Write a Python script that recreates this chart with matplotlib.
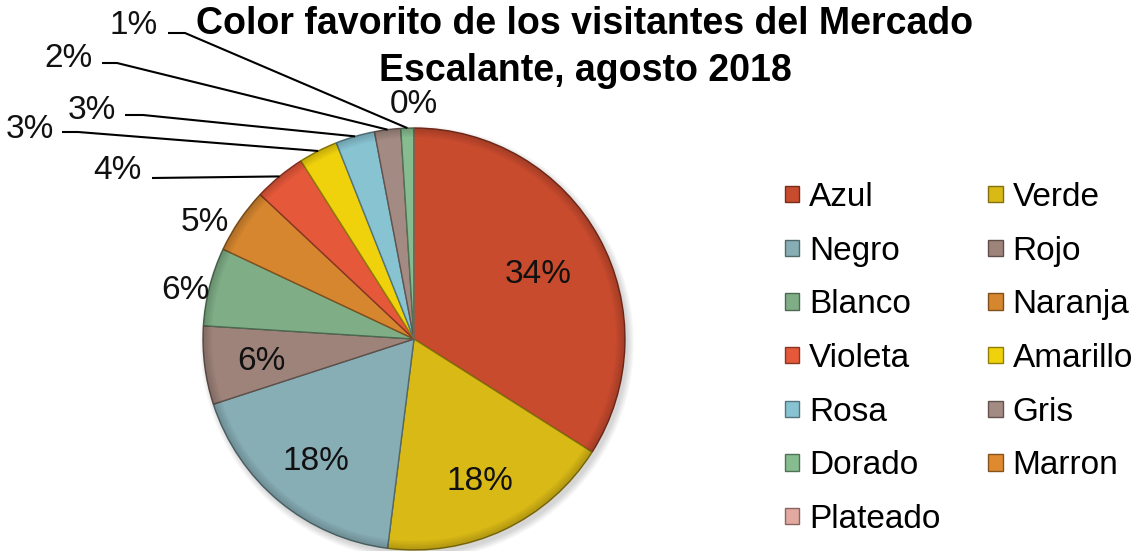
import numpy as np
import matplotlib.pyplot as plt
import matplotlib.colors as mcolors
from matplotlib.patches import Patch, Circle, Wedge

plt.rcParams['font.family'] = ['Liberation Sans', 'DejaVu Sans']

# datos de la encuesta
categorias = ['Azul', 'Verde', 'Negro', 'Rojo', 'Blanco', 'Naranja', 'Violeta',
              'Amarillo', 'Rosa', 'Gris', 'Dorado', 'Marron', 'Plateado']
porcentajes = [34, 18, 18, 6, 6, 5, 4, 3, 3, 2, 1, 0, 0]
colores = ['#C84B2E', '#D9B916', '#87ADB5', '#9E837A', '#7FAE86', '#D5862F', '#E5583A',
           '#F0D20C', '#88C3D2', '#A38A82', '#86BC8F', '#E08A30', '#E2A9A0']

W, H = 1135, 551
fig = plt.figure(figsize=(W / 100, H / 100), dpi=100)
ax = fig.add_axes([0, 0, 1, 1])

cx, cy, r = 414, H - 339, 211


def oscuro(c, f=0.6):
    return tuple(np.array(mcolors.to_rgb(c)) * f)


def px(x, y):
    # coordenadas de pixel (origen arriba a la izquierda) -> datos
    return x, H - y


# sombra suave debajo del pastel
for k in range(7):
    ax.add_patch(Circle((cx + 3, cy - 4), r + k, color='black', alpha=0.025, lw=0, zorder=0))

wedges, _ = ax.pie(porcentajes, colors=colores, startangle=90, counterclock=False,
                   center=(cx, cy), radius=r, wedgeprops=dict(linewidth=1.0))
for w, c in zip(wedges, colores):
    w.set_edgecolor(oscuro(c))
    w.set_zorder(2)

# borde biselado: oscurece un poco hacia el contorno
for k in range(6):
    ax.add_patch(Wedge((cx, cy), r - 1.5 * k, 0, 360, width=1.5, color='black',
                       alpha=0.03 * (6 - k), lw=0, zorder=3))

ax.set_xlim(0, W)
ax.set_ylim(0, H)
ax.set_aspect('equal')
ax.axis('off')


def punto(i, f):
    t = np.deg2rad((wedges[i].theta1 + wedges[i].theta2) / 2)
    return cx + f * r * np.cos(t), cy + f * r * np.sin(t)


etiquetas = ['%d%%' % p for p in porcentajes]
tx = dict(fontsize=24, color='#111111', ha='center', va='center_baseline', zorder=5)

# dentro del pastel
ax.text(*punto(0, 0.67), etiquetas[0], **tx)
for i in range(1, 4):
    ax.text(*punto(i, 0.73), etiquetas[i], **tx)
# fuera, sin linea
for i, f, dy in [(4, 1.0, 0), (5, 1.06, -6)]:
    x, y = punto(i, f)
    ax.text(x, y + dy, etiquetas[i], **dict(tx, ha='right'))
ax.text(*punto(11, 1.13), etiquetas[11], **tx)

# etiquetas con linea guia: centro del texto, inicio de la linea, codo
guias = {
    6: ((117, 167), (152, 178), None),
    7: ((30, 126), (62, 132), (78, 132)),
    8: ((92, 107), (125, 115), (143, 115)),
    9: ((68, 55), (102, 63), (117, 63)),
    10: ((134, 22), (168, 33), (185, 33)),
}
for i, (txt, ini, codo) in guias.items():
    ax.text(*px(*txt), etiquetas[i], **tx)
    xs, ys = [px(*ini)[0]], [px(*ini)[1]]
    if codo:
        xs.append(px(*codo)[0])
        ys.append(px(*codo)[1])
    bx, by = punto(i, 1.0)
    xs.append(bx)
    ys.append(by)
    ax.plot(xs, ys, color='black', lw=1.5, solid_capstyle='butt', zorder=4)

fig.text(585 / W, 1 - 47.5 / H, 'Color favorito de los visitantes del Mercado\nEscalante, agosto 2018',
         ha='center', va='center', fontsize=27, fontweight='bold', linespacing=1.4)

orden = [0, 2, 4, 6, 8, 10, 12, 1, 3, 5, 7, 9, 11]
handles = [Patch(facecolor=colores[i], edgecolor=oscuro(colores[i]), label=categorias[i])
           for i in orden]
fig.legend(handles=handles, ncol=2, loc='upper left', bbox_to_anchor=(785 / W, 1 - 182 / H),
           frameon=False, fontsize=24, handlelength=0.43, handleheight=0.38,
           handletextpad=0.3, columnspacing=1.43, labelspacing=0.68,
           borderaxespad=0, borderpad=0)

fig.savefig('out.png', dpi=100)
